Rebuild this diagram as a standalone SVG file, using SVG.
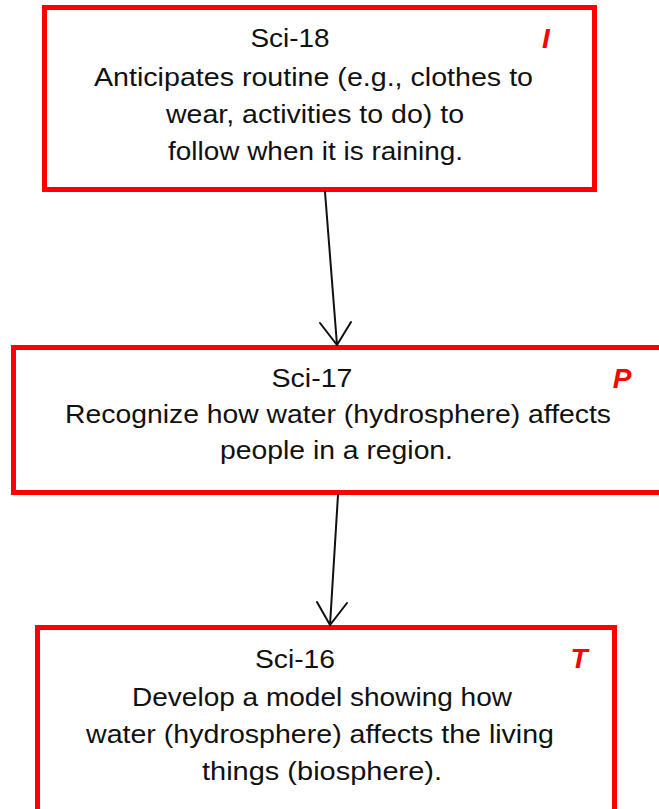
<svg xmlns="http://www.w3.org/2000/svg" width="659" height="809" viewBox="0 0 659 809">
<style>
.box{fill:#fff;stroke:#ff0000;stroke-width:5}
.t{font-family:"Liberation Sans",Arial,sans-serif;font-size:26px;fill:#111;text-anchor:middle}
.tag{font-family:"Liberation Sans",Arial,sans-serif;font-size:28px;font-weight:bold;font-style:italic;fill:#ff0000;text-anchor:middle}
.c{stroke:#111;stroke-width:2;fill:none;stroke-linecap:round}
</style>
<rect width="659" height="809" fill="#fff"/>
<g id="node-sci18">
<rect class="box" x="44.5" y="7.5" width="550" height="182"/>
<text class="t" x="290" y="47" textLength="79" lengthAdjust="spacingAndGlyphs">Sci-18</text>
<text class="t" x="313.5" y="86" textLength="439" lengthAdjust="spacingAndGlyphs">Anticipates routine (e.g., clothes to</text>
<text class="t" x="315" y="123" textLength="298" lengthAdjust="spacingAndGlyphs">wear, activities to do) to</text>
<text class="t" x="315.5" y="160" textLength="295" lengthAdjust="spacingAndGlyphs">follow when it is raining.</text>
<text class="tag" x="546" y="48">I</text>
</g>
<g id="node-sci17">
<rect class="box" x="13.5" y="347.5" width="660" height="145"/>
<text class="t" x="312" y="387" textLength="81" lengthAdjust="spacingAndGlyphs">Sci-17</text>
<text class="t" x="338" y="423" textLength="546" lengthAdjust="spacingAndGlyphs">Recognize how water (hydrosphere) affects</text>
<text class="t" x="336.5" y="459" textLength="233" lengthAdjust="spacingAndGlyphs">people in a region.</text>
<text class="tag" x="622" y="388">P</text>
</g>
<g id="node-sci16">
<rect class="box" x="37.5" y="627.5" width="577" height="200"/>
<text class="t" x="295" y="668" textLength="80" lengthAdjust="spacingAndGlyphs">Sci-16</text>
<text class="t" x="322" y="706" textLength="380" lengthAdjust="spacingAndGlyphs">Develop a model showing how</text>
<text class="t" x="320" y="743" textLength="468" lengthAdjust="spacingAndGlyphs">water (hydrosphere) affects the living</text>
<text class="t" x="322" y="780" textLength="240" lengthAdjust="spacingAndGlyphs">things (biosphere).</text>
<text class="tag" x="579" y="668">T</text>
</g>
<g id="connectors">
<path class="c" d="M325,192 L337,345 M320,323 L337,345 L351,322"/>
<path class="c" d="M338,495 L330,625 M317,602 L330,625 L347,603"/>
</g>
</svg>
